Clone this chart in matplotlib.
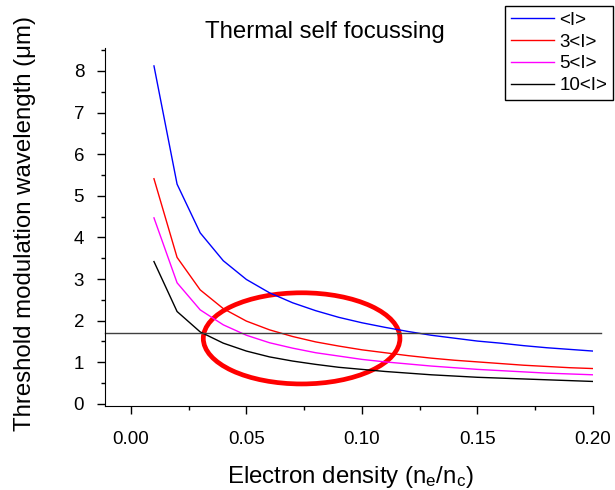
import matplotlib
matplotlib.use("Agg")
import matplotlib.pyplot as plt
from matplotlib.patches import Ellipse
from matplotlib.ticker import MultipleLocator

plt.rcParams.update({
    "font.family": ["Liberation Sans", "DejaVu Sans"],
    "mathtext.fontset": "custom",
    "mathtext.rm": "Liberation Sans",
    "mathtext.it": "Liberation Sans",
    "mathtext.default": "regular",
})

# ---- data -----------------------------------------------------------------
density = [0.01, 0.02, 0.03, 0.04, 0.05, 0.06, 0.07, 0.08, 0.09, 0.10,
           0.11, 0.12, 0.13, 0.14, 0.15, 0.16, 0.17, 0.18, 0.19, 0.20]
wl_1 = [8.12, 5.28, 4.11, 3.44, 2.99, 2.67, 2.43, 2.24, 2.08, 1.95,
        1.84, 1.74, 1.65, 1.58, 1.51, 1.46, 1.40, 1.35, 1.31, 1.27]
wl_3 = [5.41, 3.52, 2.74, 2.29, 1.99, 1.78, 1.62, 1.49, 1.39, 1.30,
        1.23, 1.16, 1.10, 1.05, 1.01, 0.97, 0.93, 0.90, 0.87, 0.85]
wl_5 = [4.47, 2.91, 2.26, 1.90, 1.65, 1.47, 1.34, 1.23, 1.15, 1.07,
        1.01, 0.96, 0.91, 0.87, 0.83, 0.80, 0.77, 0.74, 0.72, 0.70]
wl_10 = [3.42, 2.22, 1.73, 1.46, 1.27, 1.13, 1.03, 0.95, 0.88, 0.83,
         0.78, 0.74, 0.70, 0.67, 0.64, 0.62, 0.60, 0.58, 0.56, 0.54]
labels = ["<I>", "3<I>", "5<I>", "10<I>"]
colors = ["#0000ff", "#ff0000", "#ff00ff", "#000000"]
threshold = 1.70

fig = plt.figure(figsize=(6.15, 4.9), dpi=100)
ax = fig.add_axes([0.1707, 0.1714, 0.7935, 0.7306])

for ys, lab, c in zip([wl_1, wl_3, wl_5, wl_10], labels, colors):
    ax.plot(density, ys, color=c, lw=1, label=lab)

# threshold line runs a little past the last tick
ax.plot([-0.0112, 0.2035], [threshold, threshold], color="#404040", lw=1, clip_on=False)

ax.add_patch(Ellipse((0.0739, 1.575), 0.0851, 2.19, fill=False, ec="#ff0000", lw=3.4, clip_on=False))

ax.set_xlim(-0.0112, 0.20)
ax.set_ylim(-0.05, 8.55)
ax.xaxis.set_major_locator(MultipleLocator(0.05))
ax.xaxis.set_minor_locator(MultipleLocator(0.025))
ax.yaxis.set_major_locator(MultipleLocator(1))
ax.yaxis.set_minor_locator(MultipleLocator(0.5))
ax.xaxis.set_major_formatter(matplotlib.ticker.FormatStrFormatter("%.2f"))
for s in ("top", "right"):
    ax.spines[s].set_visible(False)
ax.tick_params(axis="both", which="major", length=6, width=1, labelsize=13.5)
ax.tick_params(axis="both", which="minor", length=3, width=1)
ax.tick_params(axis="x", which="major", pad=12)
ax.tick_params(axis="y", which="major", pad=9)

fig.text(325 / 615, 1 - 32 / 490, "Thermal self focussing", fontsize=17.3, ha="center", va="center")
fig.text(350 / 615, 1 - 483 / 490, r"Electron density (n$_{e}$/n$_{c}$)", fontsize=17.3,
         ha="center", va="baseline")
fig.text(25 / 615, 1 - 223 / 490, "Threshold modulation wavelength (μm)", fontsize=17.3,
         ha="center", va="center", rotation=90)

leg = fig.legend(loc="upper right", bbox_to_anchor=(613 / 615, 1 - 6 / 490), borderaxespad=0,
                 fontsize=13.5, handlelength=2.3, labelspacing=0.25, handletextpad=0.3,
                 borderpad=0.3, fancybox=False, framealpha=1)
leg.get_frame().set_edgecolor("black")
leg.get_frame().set_linewidth(1)

fig.savefig("out.png", dpi=100)
